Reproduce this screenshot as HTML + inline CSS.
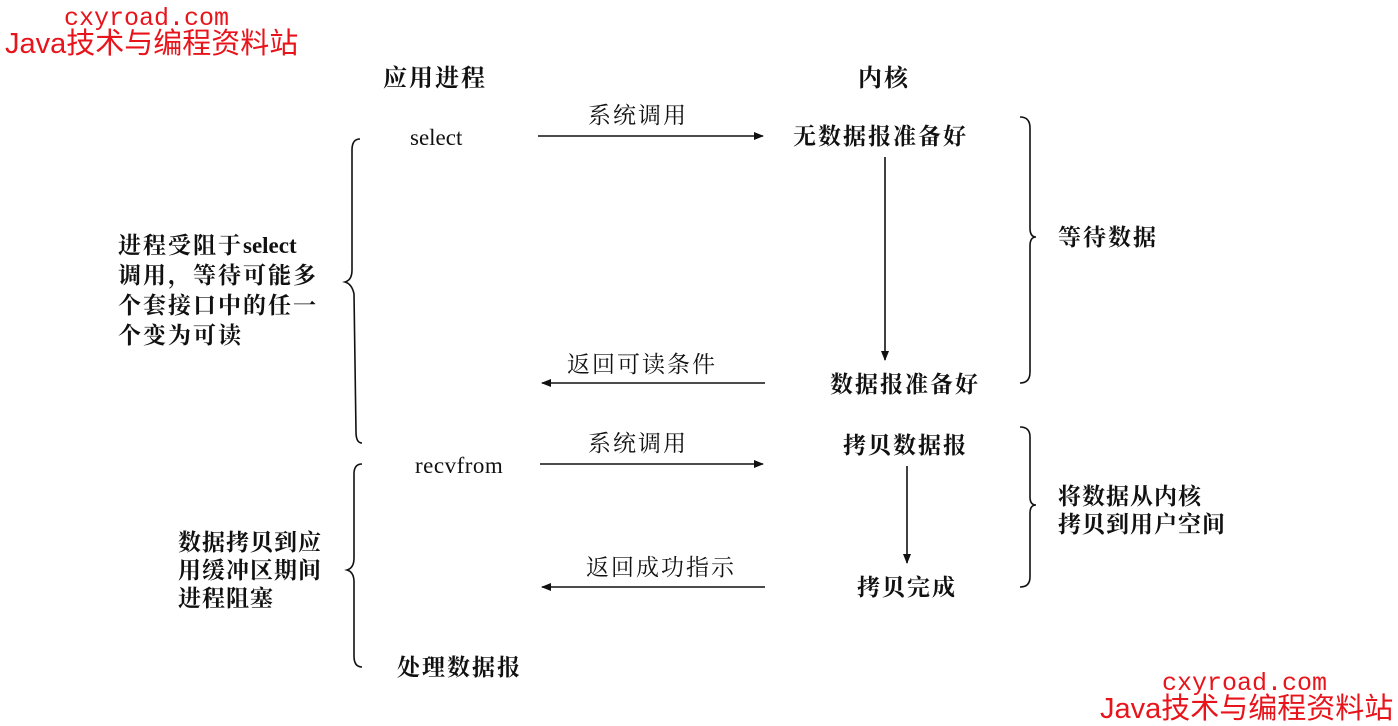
<!DOCTYPE html>
<html><head><meta charset="utf-8"><style>
body{margin:0;background:#fff}
.w{position:relative;width:1398px;height:726px;overflow:hidden;font-family:"Liberation Serif","Noto Serif CJK SC",serif;color:#111}
.t{position:absolute;white-space:nowrap;font-size:23px;font-weight:bold;line-height:1;letter-spacing:2px}
.n{font-weight:normal}
.r{position:absolute;white-space:nowrap;color:#e8141b;font-family:"Liberation Sans","Noto Sans CJK SC",sans-serif;line-height:1}
.m{font-family:"Liberation Mono",monospace}
svg{position:absolute;left:0;top:0}
</style></head><body><div class="w">
<svg width="1398" height="726" stroke="#111" fill="none" stroke-width="1.6">
<defs><marker id="a" markerWidth="10" markerHeight="8" refX="9" refY="4" orient="auto" markerUnits="userSpaceOnUse"><path d="M0,0 L10,4 L0,8z" fill="#111" stroke="none"/></marker></defs>
<line x1="538" y1="136" x2="763" y2="136" marker-end="url(#a)"/>
<line x1="765" y1="383" x2="542" y2="383" marker-end="url(#a)"/>
<line x1="540" y1="464" x2="763" y2="464" marker-end="url(#a)"/>
<line x1="765" y1="587" x2="542" y2="587" marker-end="url(#a)"/>
<line x1="885" y1="157" x2="885" y2="360" marker-end="url(#a)"/>
<line x1="907" y1="466" x2="907" y2="563" marker-end="url(#a)"/>
<path d="M1020,117 Q1030,117 1030,128 L1030,228 Q1030,237 1036,237 Q1030,237 1030,246 L1030,372 Q1030,383 1020,383"/>
<path d="M1020,427 Q1030,427 1030,437 L1030,497 Q1030,505 1036,505 Q1030,505 1030,513 L1030,577 Q1030,587 1020,587"/>
<path d="M360,139 Q352,139 352,150 L352,270 Q352,280 345,282 Q352,284 354,294 L356,432 Q356,443 362,443"/>
<path d="M362,464 Q354,464 354,474 L354,558 Q354,568 347,570 Q354,572 354,582 L354,656 Q354,667 362,667"/>
</svg>
<div class="r m" style="left:64px;top:6px;font-size:25px">cxyroad.com</div>
<div class="r" style="left:5px;top:30px;font-size:29px">Java技术与编程资料站</div>
<div class="r m" style="left:1162px;top:671px;font-size:25px">cxyroad.com</div>
<div class="r" style="left:1100px;top:695px;font-size:29px">Java技术与编程资料站</div>
<div class="t" style="left:383px;top:67px;font-size:24px">应用进程</div>
<div class="t" style="left:858px;top:67px;font-size:24px">内核</div>
<div class="t n" style="left:410px;top:126px;font-size:23px;letter-spacing:0">select</div>
<div class="t n" style="left:588px;top:104px">系统调用</div>
<div class="t" style="left:793px;top:125px">无数据报准备好</div>
<div class="t" style="left:830px;top:373px">数据报准备好</div>
<div class="t n" style="left:567px;top:353px">返回可读条件</div>
<div class="t" style="left:843px;top:434px">拷贝数据报</div>
<div class="t n" style="left:415px;top:454px;font-size:23px;letter-spacing:0.5px">recvfrom</div>
<div class="t n" style="left:588px;top:432px">系统调用</div>
<div class="t" style="left:857px;top:576px">拷贝完成</div>
<div class="t n" style="left:586px;top:556px">返回成功指示</div>
<div class="t" style="left:397px;top:656px">处理数据报</div>
<div class="t" style="left:1058px;top:226px">等待数据</div>
<div class="t" style="left:1058px;top:483px;line-height:28px;font-size:23px;letter-spacing:1px">将数据从内核<br>拷贝到用户空间</div>
<div class="t" style="left:118px;top:231px;line-height:30px">进程受阻于<span style="letter-spacing:0">select</span><br>调用，等待可能多<br>个套接口中的任一<br>个变为可读</div>
<div class="t" style="left:178px;top:529px;line-height:28px;letter-spacing:1px">数据拷贝到应<br>用缓冲区期间<br>进程阻塞</div>
</div></body></html>
